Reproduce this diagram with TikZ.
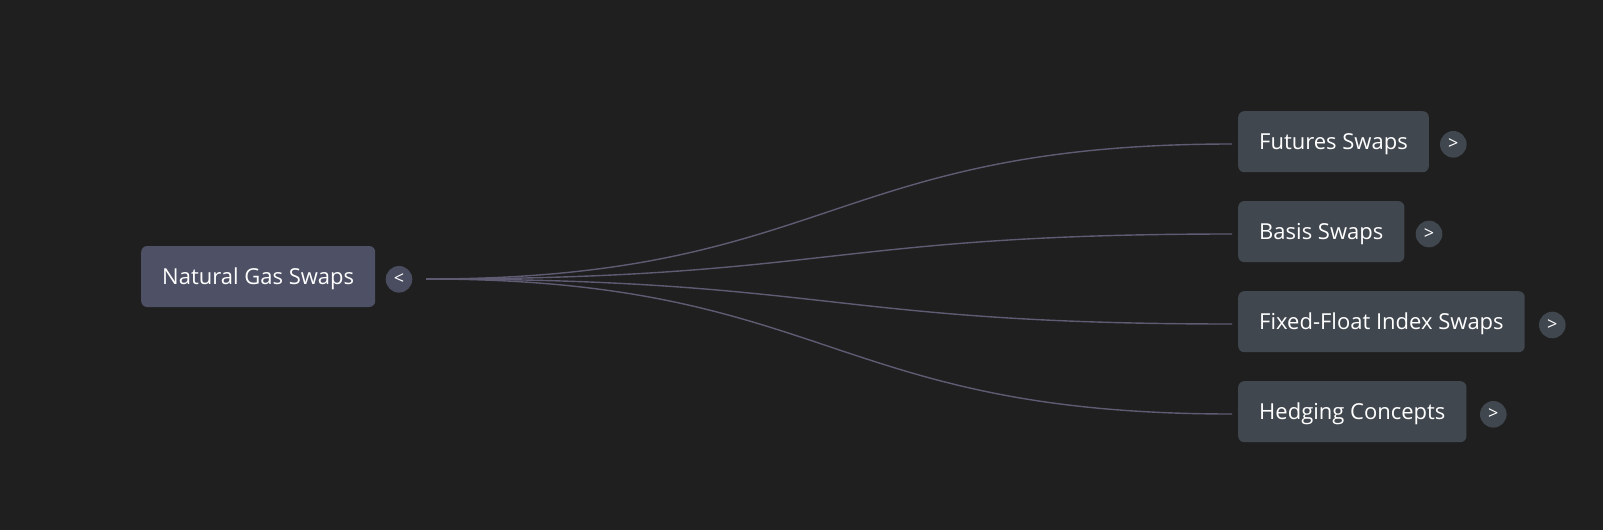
\documentclass[tikz,border=0pt]{standalone}
\usepackage{fontspec}
\setmainfont{Open Sans}
\definecolor{bg}{HTML}{1F1F1F}
\definecolor{rootfill}{HTML}{4E5166}
\definecolor{childfill}{HTML}{41474F}
\definecolor{rootbtn}{HTML}{4A4D60}
\definecolor{childbtn}{HTML}{41474F}
\definecolor{linkcol}{HTML}{5E5B73}
\tikzset{
  x=1pt, y=-1pt,
  box/.style={rounded corners=6pt, minimum height=61pt, inner xsep=21pt, inner ysep=0pt, text height=20pt, text depth=5pt, text=white, font=\fontsize{22}{24}\selectfont, anchor=west},
  rootbox/.style={box, fill=rootfill},
  childbox/.style={box, fill=childfill},
  btn/.style={circle, minimum size=26.6pt, inner sep=0pt, text=white, font=\fontsize{18}{18}\selectfont},
  link/.style={draw=linkcol, line width=1.4pt},
}
\begin{document}
\begin{tikzpicture}
\fill[bg] (0,0) rectangle (1603,530);
\useasboundingbox (0,0) rectangle (1603,530);
\node[rootbox] (root) at (141,276.5) {Natural Gas Swaps};
\node[btn, fill=rootbtn] (rb) at (399,279.3) {<};
\coordinate (s) at (426,279);
\node[childbox] (c1) at (1238,141.7) {Futures Swaps};
\node[childbox] (c2) at (1238,231.6) {Basis Swaps};
\node[childbox] (c3) at (1238,321.7) {Fixed-Float Index Swaps};
\node[childbox] (c4) at (1238,411.7) {Hedging Concepts};
\node[btn, fill=childbtn] (b1) at (1453.3,144.3) {>};
\node[btn, fill=childbtn] (b2) at (1429,234) {>};
\node[btn, fill=childbtn] (b3) at (1552.3,325) {>};
\node[btn, fill=childbtn] (b4) at (1493.3,414.3) {>};
\coordinate (e1) at (1232,144);
\coordinate (e2) at (1232,234);
\coordinate (e3) at (1232,324);
\coordinate (e4) at (1232,414);
\foreach \i/\y in {1/144,2/234,3/324,4/414}{
  \draw[link] (s) .. controls (829,279) and (829,\y) .. (e\i);
}
\end{tikzpicture}
\end{document}
